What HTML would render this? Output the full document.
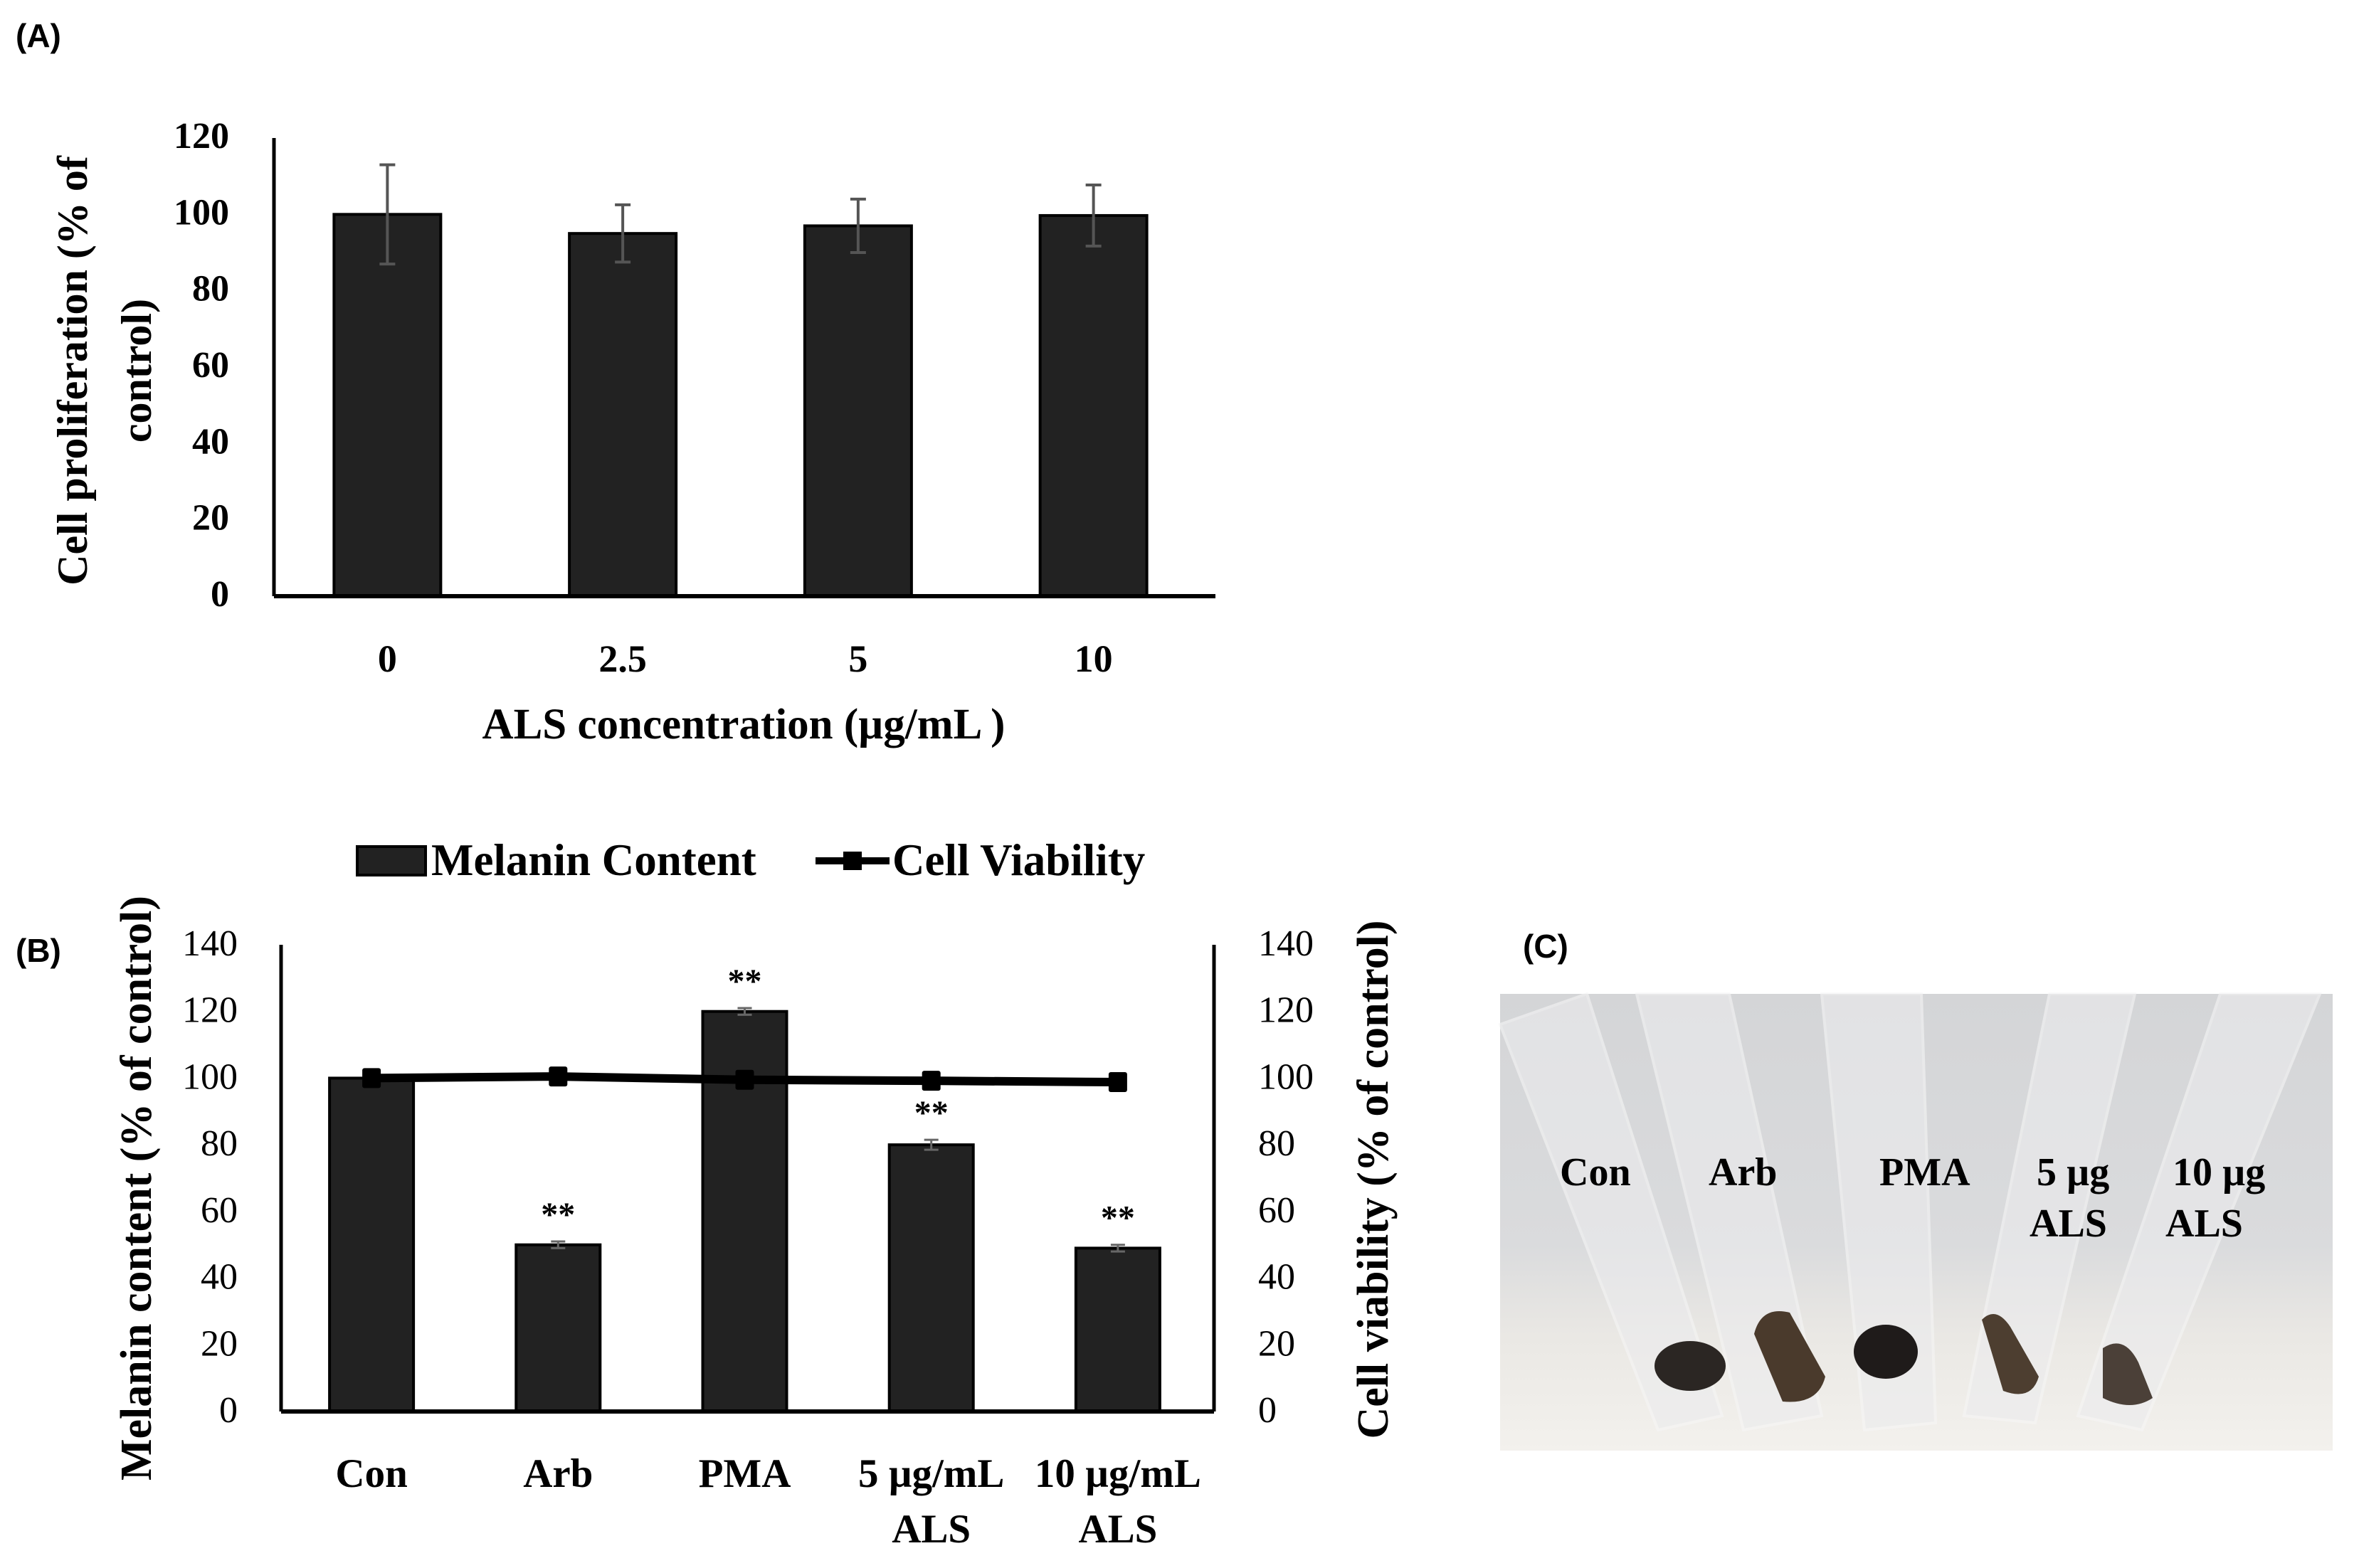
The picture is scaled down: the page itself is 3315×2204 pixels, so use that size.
<!DOCTYPE html>
<html><head><meta charset="utf-8"><style>
html,body{margin:0;padding:0;background:#fff;}
svg{display:block;}
.b{font-family:"Liberation Serif",serif;font-weight:bold;fill:#000;}
.r{font-family:"Liberation Serif",serif;fill:#000;}
.s{font-family:"Liberation Sans",sans-serif;font-weight:bold;fill:#000;}
</style></head><body>
<svg id="fig" width="3315" height="2204" viewBox="0 0 3315 2204" xmlns="http://www.w3.org/2000/svg">
<defs>
<linearGradient id="bg" x1="0" y1="0" x2="0" y2="1">
<stop offset="0" stop-color="#d4d5d7"/><stop offset="0.55" stop-color="#dadbdd"/><stop offset="0.75" stop-color="#eae8e4"/><stop offset="1" stop-color="#f3f1ed"/>
</linearGradient>
</defs>
<text class="s" x="22" y="66" font-size="46">(A)</text>
<g id="chartA"></g>
<g id="chartB"></g>
<text class="s" x="22" y="1352" font-size="46">(B)</text>
<text class="s" x="2140" y="1346" font-size="46">(C)</text>
<g>
<rect x="2108" y="1397" width="1170" height="642" fill="url(#bg)"/>
<g fill="#ececee" opacity="0.6" stroke="#f6f6f6" stroke-width="4">
<path d="M2108 1440 L2230 1397 L2420 1990 L2330 2010 Z"/>
<path d="M2300 1397 L2430 1397 L2560 1990 L2450 2010 Z"/>
<path d="M2560 1397 L2700 1397 L2720 2000 L2620 2010 Z"/>
<path d="M2880 1397 L3000 1397 L2860 2000 L2760 1990 Z"/>
<path d="M3120 1397 L3260 1397 L3010 2010 L2920 1990 Z"/>
</g>
<g>
<ellipse cx="2375" cy="1920" rx="50" ry="35" fill="#2b2623"/>
<path d="M2465 1875 Q2475 1835 2515 1845 L2565 1935 Q2555 1975 2505 1970 Z" fill="#4a3a2c"/>
<ellipse cx="2650" cy="1900" rx="45" ry="38" fill="#1f1b1a"/>
<path d="M2785 1855 Q2805 1835 2825 1865 L2865 1935 Q2855 1970 2815 1955 Z" fill="#4d3e30"/>
<path d="M2955 1895 Q2985 1875 3005 1915 L3025 1965 Q2995 1985 2955 1965 Z" fill="#4b4038"/>
</g>
<g class="b" font-size="56">
<text x="2192" y="1666">Con</text>
<text x="2401" y="1666">Arb</text>
<text x="2641" y="1666">PMA</text>
<text x="2862" y="1666">5 µg</text>
<text x="2852" y="1738">ALS</text>
<text x="3053" y="1666">10 µg</text>
<text x="3043" y="1738">ALS</text>
</g>
</g>
</svg>
<script>
// ---- Chart A data ----
const catsA = ["0","2.5","5","10"];
const valsA = [100, 95, 97, 99.7];
const errA = [13, 7.5, 7, 8];
const ticksA = [0,20,40,60,80,100,120];
// ---- Chart B data ----
const catsB1 = ["Con","Arb","PMA","5 µg/mL","10 µg/mL"];
const catsB2 = ["","","","ALS","ALS"];
const melanin = [100, 50, 120, 80, 49];
const melErr = [0, 1, 1, 1.5, 1];
const stars = ["","**","**","**","**"];
const viability = [100, 100.5, 99.5, 99.2, 98.8];
const ticksB = [0,20,40,60,80,100,120,140];

const NS="http://www.w3.org/2000/svg";
function mk(parent,tag,attrs,text){const e=document.createElementNS(NS,tag);for(const k in attrs)e.setAttribute(k,attrs[k]);if(text!==undefined)e.textContent=text;parent.appendChild(e);return e;}

// Chart A
(function(){
const g=document.getElementById('chartA');
const x0=385,x1=1708,y0=838,yTop=194;
const yA=v=>y0-(v/120)*(y0-yTop);
const bw=(x1-x0)/catsA.length;
const xA=i=>x0+bw*(i+0.5)-6;
let e=mk(g,'line',{x1:x0,y1:yTop,x2:x0,y2:y0,stroke:'#000','stroke-width':5});


ticksA.forEach(t=>{const tx=mk(g,'text',{class:'b',x:322,y:yA(t)+14,'font-size':52,'text-anchor':'end'},t);

});
valsA.forEach((v,i)=>{
const r=mk(g,'rect',{x:xA(i)-75,y:yA(v),width:150,height:y0-yA(v),fill:'#222',stroke:'#000','stroke-width':4});


const c=xA(i);
const eb=mk(g,'path',{d:`M${c} ${yA(v+errA[i])}V${yA(v-errA[i])}M${c-11} ${yA(v+errA[i])}H${c+11}M${c-11} ${yA(v-errA[i])}H${c+11}`,stroke:'#555','stroke-width':4,fill:'none'});


const tl=mk(g,'text',{class:'b',x:c,y:944,'font-size':54,'text-anchor':'middle'},catsA[i]);


});
e=mk(g,'line',{x1:x0,y1:y0,x2:x1,y2:y0,stroke:'#000','stroke-width':6});


e=mk(g,'text',{class:'b',x:1045,y:1038,'font-size':61,'text-anchor':'middle'},'ALS concentration (µg/mL )');


e=mk(g,'text',{class:'b','font-size':60,'text-anchor':'middle',transform:'translate(122,521) rotate(-90)'},'Cell proliferation (% of');


e=mk(g,'text',{class:'b','font-size':60,'text-anchor':'middle',transform:'translate(212,521) rotate(-90)'},'control)');


})();

// Chart B
(function(){
const g=document.getElementById('chartB');
const x0=395,x1=1706,y0=1984,yTop=1328;
const yB=v=>y0-(v/140)*(y0-yTop);
const bw=(x1-x0)/catsB1.length;
const xB=i=>x0+bw*(i+0.5)-4;
let e;
e=mk(g,'line',{x1:x0,y1:yTop,x2:x0,y2:y0,stroke:'#000','stroke-width':5});


e=mk(g,'line',{x1:x1,y1:yTop,x2:x1,y2:y0,stroke:'#000','stroke-width':5});


ticksB.forEach(t=>{
const a=mk(g,'text',{class:'r',x:334,y:yB(t)+15,'font-size':52,'text-anchor':'end'},t);


const b=mk(g,'text',{class:'r',x:1768,y:yB(t)+15,'font-size':52},t);


});
melanin.forEach((v,i)=>{
const c=xB(i);
const r=mk(g,'rect',{x:c-59,y:yB(v),width:118,height:y0-yB(v),fill:'#222',stroke:'#000','stroke-width':4});


if(melErr[i]>0){
const eb=mk(g,'path',{d:`M${c} ${yB(v+melErr[i])}V${yB(v-melErr[i])}M${c-10} ${yB(v+melErr[i])}H${c+10}M${c-10} ${yB(v-melErr[i])}H${c+10}`,stroke:'#666','stroke-width':3,fill:'none'});

}
if(stars[i]){const s=mk(g,'text',{class:'b',x:c,y:yB(v+melErr[i])-22,'font-size':48,'text-anchor':'middle'},stars[i]);

}
const l1=mk(g,'text',{class:'b',x:c,y:2090,'font-size':57,'text-anchor':'middle'},catsB1[i]);


if(catsB2[i]){const l2=mk(g,'text',{class:'b',x:c,y:2168,'font-size':57,'text-anchor':'middle'},catsB2[i]);

}
});
e=mk(g,'line',{x1:x0,y1:y0,x2:x1,y2:y0,stroke:'#000','stroke-width':6});


const pts=viability.map((v,i)=>xB(i)+','+yB(v)).join(' ');
e=mk(g,'polyline',{points:pts,fill:'none',stroke:'#000','stroke-width':12});


viability.forEach((v,i)=>{const m=mk(g,'rect',{x:xB(i)-13,y:yB(v)-14,width:26,height:28,fill:'#000',rx:3});

});
e=mk(g,'text',{class:'b','font-size':62,'text-anchor':'middle',transform:'translate(212,1670) rotate(-90)'},'Melanin content (% of control)');


e=mk(g,'text',{class:'b','font-size':62,'text-anchor':'middle',transform:'translate(1950,1658) rotate(-90)'},'Cell viability (% of control)');


// legend
e=mk(g,'rect',{x:502,y:1190,width:96,height:40,fill:'#222',stroke:'#000','stroke-width':4});


e=mk(g,'text',{class:'b',x:606,y:1230,'font-size':63},'Melanin Content');


e=mk(g,'line',{x1:1146,y1:1210,x2:1250,y2:1210,stroke:'#000','stroke-width':10});


e=mk(g,'rect',{x:1185,y:1197,width:26,height:26,fill:'#000'});


e=mk(g,'text',{class:'b',x:1254,y:1230,'font-size':63},'Cell Viability');


})();
</script>
</body></html>
